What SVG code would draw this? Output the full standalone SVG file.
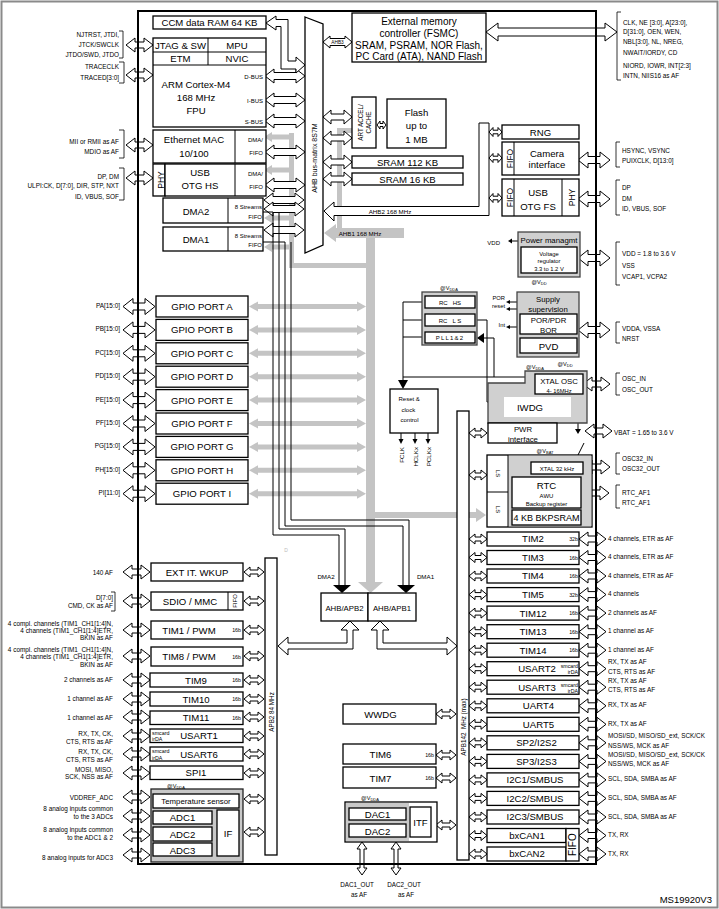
<svg xmlns="http://www.w3.org/2000/svg" width="719" height="909" viewBox="0 0 719 909">
<style>
text{font-family:"Liberation Sans",Arial,sans-serif;fill:#000}
.t{font-size:9.6px;text-anchor:middle}
.f{font-size:10px;text-anchor:middle}
.m{font-size:7.8px;text-anchor:middle}
.sm{font-size:6px;text-anchor:middle}
.se{font-size:6px;text-anchor:end}
.ss{font-size:6px;text-anchor:start}
.le{font-size:6.4px;text-anchor:end}
.ri{font-size:6.4px;text-anchor:start}
.u{font-size:5.3px;text-anchor:end}
.v{font-size:5.6px;text-anchor:middle}
.b{fill:#fff;stroke:#000;stroke-width:1.3}
.gb{fill:#d0d0d0;stroke:#444;stroke-width:1.3}
.a{fill:#fff;stroke:#000;stroke-width:1}
.g{fill:#c4c4c4}
.ln{fill:none;stroke:#000;stroke-width:1}
.br{fill:none;stroke:#000;stroke-width:0.8}
.k{fill:#000}
</style>
<defs>
<path id="pl" d="M0,0 L10,-8 L10,-3.5 L22,-3.5 L22,-8 L32,0 L22,8 L22,3.5 L10,3.5 L10,8 Z"/>
<path id="pr" d="M0,0 L9,-7 L9,-3 L18,-3 L18,-7 L27,0 L18,7 L18,3 L9,3 L9,7 Z"/>
<path id="bm" d="M0,0 L9,-7 L9,-3.5 L31,-3.5 L31,-7 L40,0 L31,7 L31,3.5 L9,3.5 L9,7 Z"/>
<path id="a29" d="M0,0 L8,-7 L8,-3 L21,-3 L21,-7 L29,0 L21,7 L21,3 L8,3 L8,7 Z"/>
<path id="s20" d="M0,0 L6,-5 L6,-2 L14,-2 L14,-5 L20,0 L14,5 L14,2 L6,2 L6,5 Z"/>
<path id="s18" d="M0,0 L6,-5 L6,-2 L12,-2 L12,-5 L18,0 L12,5 L12,2 L6,2 L6,5 Z"/>
<path id="s13" d="M0,0 L4,-4.5 L4,-1.8 L9,-1.8 L9,-4.5 L13,0 L9,4.5 L9,1.8 L4,1.8 L4,4.5 Z"/>
<path id="ga" d="M0,0 L9,-5 L9,-2.5 L108,-2.5 L108,-5 L117,0 L108,5 L108,2.5 L9,2.5 L9,5 Z"/>
<path id="gl" d="M0,0 L8,-5 L8,-2.5 L26,-2.5 L26,2.5 L8,2.5 L8,5 Z"/>
<path id="dv" d="M0,0 L5,7 L2,7 L2,26 L5,26 L0,33 L-5,26 L-2,26 L-2,7 L-5,7 Z"/>
</defs>
<rect x="1.5" y="1.5" width="716" height="906" fill="#fff" stroke="#8a8a8a" stroke-width="2"/>

<g id="gray-buses" class="g">
<polygon points="324,233 336,224 336,228 404,228 404,238 375,238 375,582 383,582 370.5,593 358,582 366,582 366,238 336,238 336,242"/>
<rect x="337" y="128" width="5" height="100"/>
<rect x="342" y="128" width="10" height="5"/>
<rect x="289" y="133" width="5" height="135"/>
<rect x="289" y="263" width="77" height="5"/>
<use href="#gl" x="264" y="137"/>
<use href="#gl" x="264" y="170"/>
<use href="#gl" x="264" y="218"/>
<use href="#gl" x="264" y="247"/>
<use href="#ga" x="249" y="306.5"/>
<use href="#ga" x="249" y="329.9"/>
<use href="#ga" x="249" y="353.3"/>
<use href="#ga" x="249" y="376.7"/>
<use href="#ga" x="249" y="400.1"/>
<use href="#ga" x="249" y="423.5"/>
<use href="#ga" x="249" y="446.9"/>
<use href="#ga" x="249" y="470.3"/>
<use href="#ga" x="249" y="493.7"/>
<polygon points="375,512 476,512 476,508 486,515 476,522 476,518 375,518"/>
</g>
<text x="360" y="235.5" style="font-size:6.2px;text-anchor:middle">AHB1 168 MHz</text>

<g id="connectors">
<use href="#pr" class="a" x="126" y="45"/>
<use href="#pr" class="a" x="126" y="75"/>
<use href="#pr" class="a" x="126" y="145"/>
<use href="#pr" class="a" x="126" y="178"/>
<use href="#pl" class="a" x="123" y="306.5"/>
<use href="#pl" class="a" x="123" y="329.9"/>
<use href="#pl" class="a" x="123" y="353.3"/>
<use href="#pl" class="a" x="123" y="376.7"/>
<use href="#pl" class="a" x="123" y="400.1"/>
<use href="#pl" class="a" x="123" y="423.5"/>
<use href="#pl" class="a" x="123" y="446.9"/>
<use href="#pl" class="a" x="123" y="470.3"/>
<use href="#pl" class="a" x="123" y="493.7"/>
<use href="#pr" class="a" x="123" y="572"/>
<use href="#pr" class="a" x="123" y="601"/>
<use href="#pr" class="a" x="123" y="630"/>
<use href="#pr" class="a" x="123" y="656"/>
<use href="#pr" class="a" x="123" y="680"/>
<use href="#pr" class="a" x="123" y="699"/>
<use href="#pr" class="a" x="123" y="717"/>
<use href="#pr" class="a" x="123" y="736"/>
<use href="#pr" class="a" x="123" y="754"/>
<use href="#pr" class="a" x="123" y="773"/>
<use href="#pr" class="a" x="123" y="797"/>
<use href="#pr" class="a" x="123" y="816"/>
<use href="#pr" class="a" x="123" y="835"/>
<use href="#pr" class="a" x="123" y="855"/>
<use href="#bm" class="a" x="265" y="76"/>
<use href="#bm" class="a" x="265" y="100"/>
<use href="#bm" class="a" x="265" y="121"/>
<use href="#bm" class="a" x="265" y="152"/>
<use href="#bm" class="a" x="265" y="185"/>
<use href="#bm" class="a" x="264" y="200"/>
<use href="#bm" class="a" x="264" y="209"/>
<use href="#bm" class="a" x="264" y="230"/>
<polygon class="a" points="266,23 276,16 276,19.5 288,19.5 288,61 296,61 296,57 305,65 296,73 296,69 281,69 281,26.5 276,26.5 276,30"/>
<path class="a" d="M323,42 L330,36 L330,38.5 L345,38.5 L345,36 L352,42 L345,48 L345,45.5 L330,45.5 L330,48 Z"/>
<text x="337.5" y="44" style="font-size:4.8px;text-anchor:middle">AHB3</text>
<use href="#a29" class="a" x="323" y="117"/>
<use href="#a29" class="a" x="323" y="138"/>
<use href="#a29" class="a" x="323" y="162"/>
<use href="#a29" class="a" x="323" y="179"/>
<path class="a" d="M377,125 L380,121 L380,123.5 L383,123.5 L383,121 L386,125 L383,129 L383,126.5 L380,126.5 L380,129 Z"/>
<polygon class="a" points="324,211 334,202 334,206.5 479,206.5 479,123 489,123 489,215.5 334,215.5 334,221"/>
<text x="390" y="213.5" style="font-size:6.2px;text-anchor:middle">AHB2 168 MHz</text>
<use href="#s13" class="a" x="489" y="132"/>
<use href="#s13" class="a" x="489" y="158"/>
<use href="#s13" class="a" x="489" y="198"/>
<path class="a" d="M486,32 L498,23 L498,28 L605,28 L605,23 L617,32 L605,41 L605,36 L498,36 L498,41 Z"/>
<use href="#pl" class="a" x="578" y="160"/>
<use href="#pl" class="a" x="578" y="199"/>
<use href="#pl" class="a" x="578" y="258"/>
<use href="#pl" class="a" x="578" y="330"/>
<use href="#pr" class="a" x="583" y="384"/>
<use href="#pr" class="a" x="585" y="431"/>
<use href="#pr" class="a" x="583" y="467"/>
<use href="#pr" class="a" x="582" y="493"/>
<use href="#s18" class="a" x="469" y="433"/>
<use href="#s18" class="a" x="469" y="475"/>
<use href="#s18" class="a" x="469" y="539"/><use href="#pr" class="a" x="579" y="539"/>
<use href="#s18" class="a" x="469" y="557.5"/><use href="#pr" class="a" x="579" y="557.5"/>
<use href="#s18" class="a" x="469" y="576"/><use href="#pr" class="a" x="579" y="576"/>
<use href="#s18" class="a" x="469" y="594.6"/><use href="#pr" class="a" x="579" y="594.6"/>
<use href="#s18" class="a" x="469" y="613.1"/><use href="#pr" class="a" x="579" y="613.1"/>
<use href="#s18" class="a" x="469" y="631.7"/><use href="#pr" class="a" x="579" y="631.7"/>
<use href="#s18" class="a" x="469" y="650.2"/><use href="#pr" class="a" x="579" y="650.2"/>
<use href="#s18" class="a" x="469" y="668.7"/><use href="#pr" class="a" x="579" y="668.7"/>
<use href="#s18" class="a" x="469" y="687.2"/><use href="#pr" class="a" x="579" y="687.2"/>
<use href="#s18" class="a" x="469" y="705.8"/><use href="#pr" class="a" x="579" y="705.8"/>
<use href="#s18" class="a" x="469" y="724.3"/><use href="#pr" class="a" x="579" y="724.3"/>
<use href="#s18" class="a" x="469" y="742.8"/><use href="#pr" class="a" x="579" y="742.8"/>
<use href="#s18" class="a" x="469" y="761.4"/><use href="#pr" class="a" x="579" y="761.4"/>
<use href="#s18" class="a" x="469" y="779.9"/><use href="#pr" class="a" x="579" y="779.9"/>
<use href="#s18" class="a" x="469" y="798.4"/><use href="#pr" class="a" x="579" y="798.4"/>
<use href="#s18" class="a" x="469" y="817"/><use href="#pr" class="a" x="579" y="817"/>
<use href="#s18" class="a" x="469" y="835.5"/><use href="#pr" class="a" x="579" y="835.5"/>
<use href="#s18" class="a" x="469" y="854"/><use href="#pr" class="a" x="579" y="854"/>
<use href="#s20" class="a" x="244" y="572"/>
<use href="#s20" class="a" x="244" y="601"/>
<use href="#s20" class="a" x="244" y="630"/>
<use href="#s20" class="a" x="244" y="656"/>
<use href="#s20" class="a" x="244" y="680"/>
<use href="#s20" class="a" x="244" y="699"/>
<use href="#s20" class="a" x="244" y="717"/>
<use href="#s20" class="a" x="244" y="736"/>
<use href="#s20" class="a" x="244" y="754"/>
<use href="#s20" class="a" x="244" y="773"/>
<use href="#s20" class="a" x="244" y="799"/>
<use href="#s20" class="a" x="244" y="832"/>
<use href="#s20" class="a" x="436" y="714"/>
<use href="#s20" class="a" x="436" y="755"/>
<use href="#s20" class="a" x="436" y="778"/>
<use href="#s20" class="a" x="436" y="825"/>
<polygon class="a" points="350,621 359,630 353,630 353,649 288,649 288,655 278,646 288,637 288,643 347,643 347,630 341,630"/>
<polygon class="a" points="380,621 389,630 383,630 383,643 447,643 447,637 457,646 447,655 447,649 377,649 377,630 371,630"/>
<path class="ln" d="M263,212 H273 V535 H339 V585"/>
<path class="ln" d="M279,212 V529 H345 V585"/>
<polygon class="k" points="333,585 351,585 342,593"/>
<path class="ln" d="M263,242 H285 V526 H403 V585"/>
<path class="ln" d="M291,242 V520 H409 V585"/>
<polygon class="k" points="397,585 415,585 406,593"/>
<text x="326" y="579" style="font-size:6.2px;text-anchor:middle">DMA2</text>
<text x="425.5" y="579" style="font-size:6.2px;text-anchor:middle">DMA1</text>
<use href="#dv" class="a" x="362" y="842"/>
<use href="#dv" class="a" x="396" y="842"/>
<path class="ln" d="M425,302 H403 V381"/>
<polygon class="k" points="398,380 408,380 403,389"/>
<path class="ln" d="M425,320 H403 M425,337 H403 M403,377 H525"/>
<path class="ln" d="M475,320 H487 V402 H497"/>
<polygon class="k" points="496,397 496,407 504,402"/>
<path class="ln" d="M494,377 V338 H483"/>
<polygon class="k" points="484,333 484,343 477,338"/>
<path class="ln" d="M401,433 V440 M415,433 V440 M428,433 V440"/>
<polygon class="k" points="398.5,439 403.5,439 401,444"/>
<polygon class="k" points="412.5,439 417.5,439 415,444"/>
<polygon class="k" points="425.5,439 430.5,439 428,444"/>
<path class="ln" d="M518,241 H512 M517,302 H510 M517,309 H510 M517,327 H510"/>
<polygon class="k" points="512,238.5 512,243.5 508,241"/>
<polygon class="k" points="510,300 510,304 506,302"/>
<polygon class="k" points="510,307 510,311 506,309"/>
<polygon class="k" points="510,325 510,329 506,327"/>
<path class="ln" d="M578,423 V430"/>
<polygon class="k" points="575,429 581,429 578,434"/>
<path class="ln" d="M584,443 L577,457"/>
<path class="ln" d="M531,467 H519 V473"/>
<polygon class="k" points="516,472 522,472 519,477"/>
<path class="br" d="M119,31 H123 V58 H119 M119,62 H124 V83 H119 M119,130 H124 V158 H119 M119,168 H124 V200 H119 M111,592 H115 V611 H111"/>
<path class="br" d="M621,12 H617 V80 H621 M620,142 H616 V167 H620 M620,180 H616 V215 H620 M620,242 H616 V285 H620 M620,322 H616 V343 H620 M620,373 H616 V395 H620 M620,453 H616 V474 H620 M620,485 H616 V508 H620"/>
</g>

<g id="chip-boundary">
<rect x="138" y="11" width="458" height="853" fill="none" stroke="#000" stroke-width="2"/>
</g>

<g id="pin-labels">
<text class="le" x="119" y="36.5">NJTRST, JTDI,</text>
<text class="le" x="119" y="47">JTCK/SWCLK</text>
<text class="le" x="119" y="57">JTDO/SWD, JTDO</text>
<text class="le" x="119" y="69">TRACECLK</text>
<text class="le" x="119" y="80">TRACED[3:0]</text>
<text class="le" x="119" y="143.5">MII or RMII as AF</text>
<text class="le" x="119" y="154">MDIO as AF</text>
<text class="le" x="119" y="178.5">DP, DM</text>
<text class="le" x="119" y="188">ULPI:CK, D[7:0], DIR, STP, NXT</text>
<text class="le" x="119" y="199">ID, VBUS, SOF</text>
<text class="le" x="120" y="308">PA[15:0]</text>
<text class="le" x="120" y="331.4">PB[15:0]</text>
<text class="le" x="120" y="354.8">PC[15:0]</text>
<text class="le" x="120" y="378.2">PD[15:0]</text>
<text class="le" x="120" y="401.6">PE[15:0]</text>
<text class="le" x="120" y="425">PF[15:0]</text>
<text class="le" x="120" y="448.4">PG[15:0]</text>
<text class="le" x="120" y="471.8">PH[15:0]</text>
<text class="le" x="120" y="495.2">PI[11:0]</text>
<text class="le" x="113" y="574.5">140 AF</text>
<text class="le" x="113" y="599.5">D[7:0]</text>
<text class="le" x="113" y="607.5">CMD, CK as AF</text>
<text class="le" x="113" y="625.6">4 compl. channels (TIM1_CH1[1:4]N,</text>
<text class="le" x="113" y="633">4 channels (TIM1_CH1[1:4]ETR,</text>
<text class="le" x="113" y="640.3">BKIN as AF</text>
<text class="le" x="113" y="652.3">4 compl. channels (TIM1_CH1[1:4]N,</text>
<text class="le" x="113" y="659.3">4 channels (TIM1_CH1[1:4]ETR,</text>
<text class="le" x="113" y="666.6">BKIN as AF</text>
<text class="le" x="113" y="682">2 channels as AF</text>
<text class="le" x="113" y="701.3">1 channel as AF</text>
<text class="le" x="113" y="719.6">1 channel as AF</text>
<text class="le" x="113" y="735.6">RX, TX, CK,</text>
<text class="le" x="113" y="744">CTS, RTS as AF</text>
<text class="le" x="113" y="754">RX, TX, CK,</text>
<text class="le" x="113" y="762.3">CTS, RTS as AF</text>
<text class="le" x="113" y="771.6">MOSI, MISO,</text>
<text class="le" x="113" y="779.3">SCK, NSS as AF</text>
<text class="le" x="113" y="799.6">VDDREF_ADC</text>
<text class="le" x="113" y="810.6">8 analog inputs common</text>
<text class="le" x="113" y="818.6">to the 3 ADCs</text>
<text class="le" x="113" y="832.3">8 analog inputs common</text>
<text class="le" x="113" y="840.3">to the ADC1 &amp; 2</text>
<text class="le" x="113" y="859.6">8 analog inputs for ADC3</text>
<text class="ri" x="623" y="24.5">CLK, NE [3:0], A[23:0],</text>
<text class="ri" x="623" y="34">D[31:0], OEN, WEN,</text>
<text class="ri" x="623" y="44">NBL[3:0], NL, NREG,</text>
<text class="ri" x="623" y="54.5">NWAIT/IORDY, CD</text>
<text class="ri" x="623" y="67.5">NIORD, IOWR, INT[2:3]</text>
<text class="ri" x="623" y="77.5">INTN, NIIS16 as AF</text>
<text class="ri" x="622" y="152.5">HSYNC, VSYNC</text>
<text class="ri" x="622" y="163">PUIXCLK, D[13:0]</text>
<text class="ri" x="622" y="190">DP</text>
<text class="ri" x="622" y="200.5">DM</text>
<text class="ri" x="622" y="211">ID, VBUS, SOF</text>
<text class="ri" x="622" y="256">VDD = 1.8 to 3.6 V</text>
<text class="ri" x="622" y="267.5">VSS</text>
<text class="ri" x="622" y="278.5">VCAP1, VCPA2</text>
<text class="ri" x="622" y="330.5">VDDA, VSSA</text>
<text class="ri" x="622" y="340.5">NRST</text>
<text class="ri" x="622" y="381">OSC_IN</text>
<text class="ri" x="622" y="391.5">OSC_OUT</text>
<text class="ri" x="614" y="434.5">VBAT = 1.65 to 3.6 V</text>
<text class="ri" x="622" y="460.5">OSC32_IN</text>
<text class="ri" x="622" y="470.5">OSC32_OUT</text>
<text class="ri" x="622" y="494.5">RTC_AF1</text>
<text class="ri" x="622" y="504.5">RTC_AF1</text>
<text class="ri" x="608" y="540.5">4 channels, ETR as AF</text>
<text class="ri" x="608" y="559">4 channels, ETR as AF</text>
<text class="ri" x="608" y="577.5">4 channels, ETR as AF</text>
<text class="ri" x="608" y="596.1">4 channels</text>
<text class="ri" x="608" y="614.6">2 channels as AF</text>
<text class="ri" x="608" y="633.2">1 channel as AF</text>
<text class="ri" x="608" y="651.7">1 channel as AF</text>
<text class="ri" x="608" y="664.2">RX, TX as AF</text>
<text class="ri" x="608" y="673.5">CTS, RTS as AF</text>
<text class="ri" x="608" y="682.7">RX, TX as AF</text>
<text class="ri" x="608" y="692">CTS, RTS as AF</text>
<text class="ri" x="608" y="707.3">RX, TX as AF</text>
<text class="ri" x="608" y="725.8">RX, TX as AF</text>
<text class="ri" x="608" y="738.3">MOSI/SD, MISO/SD_ext, SCK/CK</text>
<text class="ri" x="608" y="747.6">NSS/WS, MCK as AF</text>
<text class="ri" x="608" y="756.9">MOSI/SD, MISO/SD_ext, SCK/CK</text>
<text class="ri" x="608" y="766.2">NSS/WS, MCK as AF</text>
<text class="ri" x="608" y="781.4">SCL, SDA, SMBA as AF</text>
<text class="ri" x="608" y="799.9">SCL, SDA, SMBA as AF</text>
<text class="ri" x="608" y="818.5">SCL, SDA, SMBA as AF</text>
<text class="ri" x="608" y="837">TX, RX</text>
<text class="ri" x="608" y="855.5">TX, RX</text>
<text x="357" y="886.5" style="font-size:6.3px;text-anchor:middle">DAC1_OUT</text>
<text x="359" y="896.5" style="font-size:6.3px;text-anchor:middle">as AF</text>
<text x="404" y="886.5" style="font-size:6.3px;text-anchor:middle">DAC2_OUT</text>
<text x="406" y="896.5" style="font-size:6.3px;text-anchor:middle">as AF</text>
<text x="712" y="903" style="font-size:9.5px;text-anchor:end">MS19920V3</text>
<text x="286" y="552" style="font-size:5px;fill:#bbb;text-anchor:middle">D</text>
</g>

<g id="ccm-ram"><rect class="b" x="153" y="16" width="113" height="13"/><text class="t" x="209.5" y="26.4">CCM data RAM 64 KB</text></g>

<g id="cortex-m4">
<rect class="b" x="153" y="38" width="113" height="89"/>
<path class="ln" d="M153,52 H266 M153,65 H266 M208,38 V65" stroke-width="1.2"/>
<text class="t" x="180.5" y="48.5">JTAG &amp; SW</text>
<text class="t" x="237" y="48.5">MPU</text>
<text class="t" x="180.5" y="62">ETM</text>
<text class="t" x="237" y="62">NVIC</text>
<text class="t" x="196" y="87.5">ARM Cortex-M4</text>
<text class="t" x="196" y="101">168 MHz</text>
<text class="t" x="196" y="114">FPU</text>
<text class="se" x="263" y="78.5">D-BUS</text>
<text class="se" x="263" y="102.5">I-BUS</text>
<text class="se" x="263" y="123.5">S-BUS</text>
</g>

<g id="ethernet-mac">
<rect class="b" x="153" y="130" width="113" height="33"/>
<path class="ln" d="M235,130 V163" stroke-width="1.2"/>
<text class="t" x="194" y="142.5">Ethernet MAC</text>
<text class="t" x="194" y="156.5">10/100</text>
<text class="se" x="263" y="142">DMA/</text>
<text class="se" x="263" y="155">FIFO</text>
</g>

<g id="usb-otg-hs">
<rect class="b" x="153" y="164" width="12" height="32"/>
<rect class="b" x="165" y="164" width="101" height="32"/>
<path class="ln" d="M235,164 V196" stroke-width="1.2"/>
<text transform="translate(163.5,180) rotate(-90)" style="font-size:8.5px;text-anchor:middle">PHY</text>
<text class="t" x="200" y="175.5">USB</text>
<text class="t" x="200" y="188.5">OTG HS</text>
<text class="se" x="263" y="176">DMA/</text>
<text class="se" x="263" y="189">FIFO</text>
</g>

<g id="dma2">
<rect class="b" x="163" y="198" width="100" height="25"/>
<path class="ln" d="M228,198 V223" stroke-width="1.2"/>
<text class="t" x="196" y="214.5">DMA2</text>
<text class="se" x="262" y="209">8 Streams</text>
<text class="se" x="262" y="218.5">FIFO</text>
</g>

<g id="dma1">
<rect class="b" x="163" y="227" width="100" height="24"/>
<path class="ln" d="M228,227 V251" stroke-width="1.2"/>
<text class="t" x="196" y="242.5">DMA1</text>
<text class="se" x="262" y="237.5">8 Streams</text>
<text class="se" x="262" y="247">FIFO</text>
</g>

<g id="ahb-bus-matrix">
<polygon class="b" points="305,17 323,24 323,245 305,253"/>
<text transform="translate(316.5,158) rotate(-90)" style="font-size:7px;text-anchor:middle">AHB bus-matrix 8S7M</text>
</g>

<g id="fsmc">
<rect class="b" x="352" y="13" width="134" height="49"/>
<text class="f" x="419" y="24.5">External memory</text>
<text class="f" x="419" y="36.5">controller (FSMC)</text>
<text class="f" x="419" y="48.5">SRAM, PSRAM, NOR Flash,</text>
<text class="f" x="419" y="60">PC Card (ATA), NAND Flash</text>
</g>

<g id="art-accel">
<rect class="b" x="352" y="97" width="24" height="51"/>
<text transform="translate(362.5,122.5) rotate(-90)" style="font-size:6.3px;text-anchor:middle">ART ACCEL/</text>
<text transform="translate(371,122.5) rotate(-90)" style="font-size:6.3px;text-anchor:middle">CACHE</text>
</g>

<g id="flash">
<rect class="b" x="387" y="99" width="59" height="49"/>
<text class="t" x="416.5" y="115.5">Flash</text>
<text class="t" x="416.5" y="128.5">up to</text>
<text class="t" x="416.5" y="142.8">1 MB</text>
</g>

<g id="sram112"><rect class="b" x="352" y="156" width="111" height="12"/><text class="t" x="407.5" y="165.5">SRAM 112 KB</text></g>
<g id="sram16"><rect class="b" x="352" y="173" width="111" height="12"/><text class="t" x="407.5" y="182.5">SRAM 16 KB</text></g>

<g id="rng"><rect class="b" x="502" y="125" width="77" height="14"/><text class="t" x="540.5" y="135.5">RNG</text></g>

<g id="camera">
<rect class="b" x="502" y="142" width="77" height="33"/>
<path class="ln" d="M514,142 V175" stroke-width="1.2"/>
<text transform="translate(512.5,158.5) rotate(-90)" style="font-size:8.5px;text-anchor:middle">FIFO</text>
<text class="t" x="547" y="156.5">Camera</text>
<text class="t" x="547" y="168">interface</text>
</g>

<g id="usb-otg-fs">
<rect class="b" x="502" y="179" width="77" height="37"/>
<path class="ln" d="M514,179 V216 M562,179 V216" stroke-width="1.2"/>
<text transform="translate(512.5,197.5) rotate(-90)" style="font-size:8.5px;text-anchor:middle">FIFO</text>
<text transform="translate(575,197.5) rotate(-90)" style="font-size:8.5px;text-anchor:middle">PHY</text>
<text class="t" x="538" y="196">USB</text>
<text class="t" x="538" y="209.5">OTG FS</text>
</g>

<g id="power-mgmt">
<rect class="gb" x="518" y="232" width="62" height="45"/>
<text class="m" x="549" y="243">Power managmt</text>
<rect class="b" x="521" y="247" width="56" height="26"/>
<text style="font-size:5.8px;text-anchor:middle" x="549" y="255.5">Voltage</text>
<text style="font-size:5.8px;text-anchor:middle" x="549" y="262.8">regulator</text>
<text style="font-size:5.8px;text-anchor:middle" x="549" y="270.5">3.3 to 1.2 V</text>
<text class="se" x="500" y="244.5">VDD</text>
<text class="v" x="539" y="284">@V<tspan font-size="4" dy="1.2">DD</tspan></text>
</g>

<g id="supply-supervision">
<rect class="gb" x="517" y="292" width="62" height="65"/>
<text class="m" x="548" y="301.8">Supply</text>
<text class="m" x="548" y="312">supervision</text>
<rect class="b" x="520" y="314" width="57" height="20"/>
<text class="m" x="548.5" y="323.3">POR/PDR</text>
<text class="m" x="548.5" y="332.5">BOR</text>
<rect class="b" x="520" y="338" width="57" height="15"/>
<text class="t" x="548.5" y="349.5">PVD</text>
<text style="font-size:5.8px;text-anchor:end" x="505" y="300">POR</text>
<text style="font-size:5.8px;text-anchor:end" x="505" y="308">reset</text>
<text style="font-size:5.8px;text-anchor:end" x="505" y="326.5">Int</text>
<text class="v" x="565" y="366">@V<tspan font-size="4" dy="1.2">DD</tspan></text>
</g>

<g id="rc-oscillators">
<rect class="gb" x="422" y="292" width="55" height="53"/>
<rect class="b" x="425" y="296" width="50" height="12"/>
<text xml:space="preserve" style="font-size:6px;text-anchor:middle" x="450" y="304.5">RC   HS</text>
<rect class="b" x="425" y="314" width="50" height="12"/>
<text xml:space="preserve" style="font-size:6px;text-anchor:middle" x="450" y="322.5">RC   L S</text>
<rect class="b" x="425" y="332" width="50" height="11"/>
<text style="font-size:6px;text-anchor:middle;letter-spacing:1.2px" x="450" y="340">PLL1&amp;2</text>
<text class="v" x="449" y="290">@V<tspan font-size="4" dy="1.2">DDA</tspan></text>
</g>

<g id="reset-clock-control">
<rect class="b" x="390" y="389" width="48" height="44" stroke-width="1"/>
<text class="ss" x="398.5" y="400.5">Reset &amp;</text>
<text class="ss" x="401.5" y="412">clock</text>
<text class="ss" x="400.5" y="422">control</text>
<text transform="translate(403.5,447) rotate(-90)" style="font-size:6.2px;text-anchor:end">FCLK</text>
<text transform="translate(417.5,447) rotate(-90)" style="font-size:6.2px;text-anchor:end">HCLKx</text>
<text transform="translate(430.5,447) rotate(-90)" style="font-size:6.2px;text-anchor:end">PCLKx</text>
</g>

<g id="xtal-osc-iwdg">
<polygon class="gb" points="488,383 525,383 525,371 587,371 587,423 488,423"/>
<rect x="504" y="397" width="67" height="20" fill="#fff"/>
<text class="t" x="530" y="411">IWDG</text>
<rect class="b" x="535" y="374" width="48" height="20"/>
<text class="m" x="559" y="384">XTAL OSC</text>
<text style="font-size:5.8px;text-anchor:middle" x="559" y="392.5">4- 16MHz</text>
<text class="v" x="535" y="369">@V<tspan font-size="4" dy="1.2">DDA</tspan></text>
</g>

<g id="pwr-interface">
<rect class="b" x="488" y="423" width="69" height="20"/>
<text class="m" x="523" y="431.5">PWR</text>
<text class="m" x="523" y="441.5">interface</text>
</g>

<g id="rtc-backup">
<rect class="b" x="487" y="455" width="105" height="72"/>
<rect x="508" y="455.7" width="83.3" height="70.6" fill="#d0d0d0"/>
<path class="ln" d="M487,492 H508 M508,455 V527" stroke-width="1.2"/>
<text transform="translate(495.5,473.5) rotate(90)" style="font-size:6px;text-anchor:middle">LS</text>
<text transform="translate(495.5,509.5) rotate(90)" style="font-size:6px;text-anchor:middle">LS</text>
<rect class="b" x="531" y="462" width="52" height="12"/>
<text class="sm" x="557" y="470.5">XTAL 32 kHz</text>
<rect class="b" x="512" y="477" width="69" height="31"/>
<text class="t" x="546.5" y="489">RTC</text>
<text class="sm" x="546.5" y="498">AWU</text>
<text class="sm" x="546.5" y="506">Backup register</text>
<rect class="b" x="512" y="510" width="69" height="15"/>
<text x="546.5" y="521.3" style="font-size:9px;text-anchor:middle">4 KB BKPSRAM</text>
<text class="v" x="545" y="453">@V<tspan font-size="4" dy="1.2">BAT</tspan></text>
</g>

<g id="gpio-a"><rect class="b" x="156" y="296" width="92" height="21"/><text class="t" x="202" y="310">GPIO PORT A</text></g>
<g id="gpio-b"><rect class="b" x="156" y="319.4" width="92" height="21"/><text class="t" x="202" y="333.4">GPIO PORT B</text></g>
<g id="gpio-c"><rect class="b" x="156" y="342.8" width="92" height="21"/><text class="t" x="202" y="356.8">GPIO PORT C</text></g>
<g id="gpio-d"><rect class="b" x="156" y="366.2" width="92" height="21"/><text class="t" x="202" y="380.2">GPIO PORT D</text></g>
<g id="gpio-e"><rect class="b" x="156" y="389.6" width="92" height="21"/><text class="t" x="202" y="403.6">GPIO PORT E</text></g>
<g id="gpio-f"><rect class="b" x="156" y="413" width="92" height="21"/><text class="t" x="202" y="427">GPIO PORT F</text></g>
<g id="gpio-g"><rect class="b" x="156" y="436.4" width="92" height="21"/><text class="t" x="202" y="450.4">GPIO PORT G</text></g>
<g id="gpio-h"><rect class="b" x="156" y="459.8" width="92" height="21"/><text class="t" x="202" y="473.8">GPIO PORT H</text></g>
<g id="gpio-i"><rect class="b" x="156" y="483.2" width="92" height="21"/><text class="t" x="202" y="497.2">GPIO PORT I</text></g>

<g id="apb2-bus"><rect class="b" x="265" y="558" width="12" height="297"/><text transform="translate(273.5,712) rotate(-90)" style="font-size:6.3px;text-anchor:middle">APB2 84 MHz</text></g>
<g id="apb1-bus"><rect class="b" x="457" y="411" width="12" height="449"/><text xml:space="preserve" transform="translate(465.5,727) rotate(-90)" style="font-size:6.3px;text-anchor:middle">APB142  MHz (max)</text></g>

<g id="ext-it-wkup"><rect class="b" x="151" y="563" width="92" height="18"/><text class="t" x="197" y="575.5">EXT IT. WKUP</text></g>
<g id="sdio-mmc"><rect class="b" x="151" y="592" width="92" height="18"/><path class="ln" d="M228,592 V610" stroke-width="1.2"/><text class="t" x="190" y="604.5">SDIO / MMC</text><text transform="translate(237,601) rotate(-90)" style="font-size:6px;text-anchor:middle">FIFO</text></g>
<g id="tim1"><rect class="b" x="151" y="621" width="92" height="18"/><text class="t" x="189" y="633.5">TIM1 / PWM</text><text class="u" x="241" y="632">16b</text></g>
<g id="tim8"><rect class="b" x="151" y="647" width="92" height="19"/><text class="t" x="189" y="660">TIM8 / PWM</text><text class="u" x="241" y="658.5">16b</text></g>
<g id="tim9"><rect class="b" x="150" y="673" width="93" height="14"/><text class="t" x="196" y="683.5">TIM9</text><text class="u" x="241" y="682">16b</text></g>
<g id="tim10"><rect class="b" x="150" y="692" width="93" height="14"/><text class="t" x="196" y="702.5">TIM10</text><text class="u" x="241" y="701">16b</text></g>
<g id="tim11"><rect class="b" x="150" y="711" width="93" height="13.5"/><text class="t" x="196" y="721">TIM11</text><text class="u" x="241" y="719.5">16b</text></g>
<g id="usart1"><rect class="b" x="150" y="729" width="93" height="13.5"/><text style="font-size:5.3px" x="152" y="734.5">smcard</text><text style="font-size:5.3px" x="152" y="741">irDA</text><text class="t" x="199" y="739">USART1</text></g>
<g id="usart6"><rect class="b" x="150" y="747" width="93" height="14"/><text style="font-size:5.3px" x="152" y="752.5">smcard</text><text style="font-size:5.3px" x="152" y="759.5">irDA</text><text class="t" x="199" y="757.5">USART6</text></g>
<g id="spi1"><rect class="b" x="150" y="766" width="93" height="13.5"/><text class="t" x="196" y="776">SPI1</text></g>

<g id="adc">
<rect x="151" y="789" width="92" height="73" fill="#c8c8c8" stroke="#222" stroke-width="1.3"/>
<rect class="b" x="153" y="794" width="86" height="14"/>
<text class="m" x="196" y="803.8">Temperature sensor</text>
<rect class="b" x="153" y="811" width="59" height="13"/><text class="t" x="182.5" y="821">ADC1</text>
<rect class="b" x="153" y="827" width="59" height="14"/><text class="t" x="182.5" y="837.5">ADC2</text>
<rect class="b" x="153" y="843" width="59" height="13"/><text class="t" x="182.5" y="853.5">ADC3</text>
<rect class="b" x="217" y="810" width="22" height="46"/><text class="t" x="228" y="836.5">IF</text>
<text class="v" x="176" y="788">@V<tspan font-size="4" dy="1.2">DDA</tspan></text>
</g>

<g id="ahb-apb2"><rect class="b" x="321" y="593" width="47" height="28"/><text class="m" x="344.5" y="610.5">AHB/APB2</text></g>
<g id="ahb-apb1"><rect class="b" x="368" y="593" width="48" height="28"/><text class="m" x="392" y="610.5">AHB/APB1</text></g>

<g id="wwdg"><rect class="b" x="343" y="704" width="93" height="20"/><text class="t" x="380.5" y="717.5">WWDG</text></g>
<g id="tim6"><rect class="b" x="343" y="744" width="93" height="20"/><text class="t" x="380.5" y="758">TIM6</text><text class="u" x="434" y="756.5">16b</text></g>
<g id="tim7"><rect class="b" x="343" y="767" width="93" height="21"/><text class="t" x="380.5" y="781.5">TIM7</text><text class="u" x="434" y="780">16b</text></g>

<g id="dac">
<rect class="b" x="345" y="802" width="92" height="40"/>
<rect x="346" y="803" width="63" height="38" fill="#c8c8c8"/>
<rect class="b" x="349" y="808" width="57" height="12"/><text class="t" x="377.5" y="817.8">DAC1</text>
<rect class="b" x="349" y="824" width="57" height="13"/><text class="t" x="377.5" y="834.5">DAC2</text>
<rect class="b" x="410" y="807" width="21" height="30"/><text class="t" x="420.5" y="826">ITF</text>
<text class="v" x="370" y="800">@V<tspan font-size="4" dy="1.2">DDA</tspan></text>
</g>

<g id="tim2"><rect class="b" x="487" y="532" width="92" height="14"/><text class="t" x="533" y="542.4">TIM2</text><text class="u" x="578" y="541">32b</text></g>
<g id="tim3"><rect class="b" x="487" y="550.5" width="92" height="14"/><text class="t" x="533" y="560.9">TIM3</text><text class="u" x="578" y="559.5">16b</text></g>
<g id="tim4"><rect class="b" x="487" y="569" width="92" height="14"/><text class="t" x="533" y="579.4">TIM4</text><text class="u" x="578" y="578">16b</text></g>
<g id="tim5"><rect class="b" x="487" y="587.6" width="92" height="14"/><text class="t" x="533" y="598">TIM5</text><text class="u" x="578" y="596.6">32b</text></g>
<g id="tim12"><rect class="b" x="487" y="606.1" width="92" height="14"/><text class="t" x="533" y="616.5">TIM12</text><text class="u" x="578" y="615.1">16b</text></g>
<g id="tim13"><rect class="b" x="487" y="624.7" width="92" height="14"/><text class="t" x="533" y="635.1">TIM13</text><text class="u" x="578" y="633.7">16b</text></g>
<g id="tim14"><rect class="b" x="487" y="643.2" width="92" height="14"/><text class="t" x="533" y="653.6">TIM14</text><text class="u" x="578" y="652.2">16b</text></g>
<g id="usart2"><rect class="b" x="487" y="661.7" width="92" height="14"/><text class="t" x="537" y="672.1">USART2</text><text class="u" x="578" y="668.2">smcard</text><text class="u" x="578" y="674.4">irDA</text></g>
<g id="usart3"><rect class="b" x="487" y="680.2" width="92" height="14"/><text class="t" x="537" y="690.6">USART3</text><text class="u" x="578" y="686.7">smcard</text><text class="u" x="578" y="692.9">irDA</text></g>
<g id="uart4"><rect class="b" x="487" y="698.8" width="92" height="14"/><text class="t" x="538.5" y="709.2">UART4</text></g>
<g id="uart5"><rect class="b" x="487" y="717.3" width="92" height="14"/><text class="t" x="538.5" y="727.7">UART5</text></g>
<g id="spi2-i2s2"><rect class="b" x="487" y="735.8" width="92" height="14"/><text class="t" x="536.5" y="746.2">SP2/I2S2</text></g>
<g id="spi3-i2s3"><rect class="b" x="487" y="754.4" width="92" height="14"/><text class="t" x="536.5" y="764.8">SP3/I2S3</text></g>
<g id="i2c1"><rect class="b" x="487" y="772.9" width="92" height="14"/><text class="t" x="535" y="783.3">I2C1/SMBUS</text></g>
<g id="i2c2"><rect class="b" x="487" y="791.4" width="92" height="14"/><text class="t" x="535" y="801.8">I2C2/SMBUS</text></g>
<g id="i2c3"><rect class="b" x="487" y="810" width="92" height="14"/><text class="t" x="535" y="820.4">I2C3/SMBUS</text></g>
<g id="bxcan1"><rect class="b" x="487" y="828.5" width="79" height="14"/><text class="t" x="527" y="838.9">bxCAN1</text></g>
<g id="bxcan2"><rect class="b" x="487" y="847" width="79" height="14"/><text class="t" x="527" y="857.4">bxCAN2</text></g>
<g id="can-fifo"><rect class="b" x="566" y="828.5" width="13" height="32.5"/><text transform="translate(576,844.7) rotate(-90)" style="font-size:10px;text-anchor:middle">FIFO</text></g>
</svg>
